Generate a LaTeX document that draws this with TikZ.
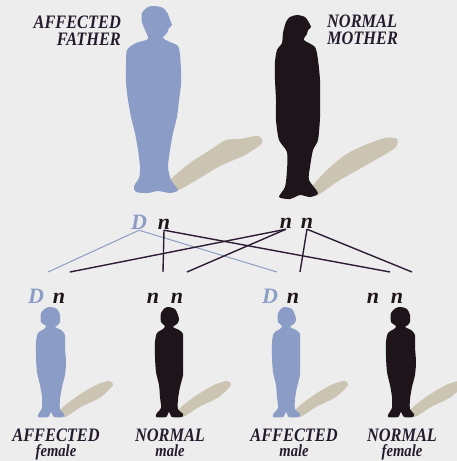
\documentclass[tikz,border=0pt]{standalone}
\usepackage{fontspec}
\newfontfamily\lettering{Liberation Serif}
\definecolor{paper}{HTML}{EDEDEE}
\definecolor{affected}{HTML}{8B9DC6}
\definecolor{normal}{HTML}{1E151B}
\definecolor{castshadow}{HTML}{CBC4B2}
\definecolor{ink}{HTML}{251B2C}
\definecolor{dline}{HTML}{2C1C34}
\definecolor{gline}{HTML}{8E9DC0}
\newcommand\sexword[1]{{\fontsize{17}{17}\selectfont #1}}
\tikzset{
  lbl/.style={font=\lettering\fontsize{19}{19}\selectfont\bfseries\itshape, text=ink, inner sep=0pt, xscale=0.86},
  kidlbl/.style={lbl, align=center, anchor=north},
  gene/.style={font=\lettering\fontsize{22}{24}\selectfont\bfseries\itshape, inner sep=1pt, anchor=base},
  dom/.style={gene, text=affected},
  rec/.style={gene, text=normal},
  gwire/.style={draw=gline, line width=1pt},
  dwire/.style={draw=dline, line width=1.4pt},
  figure/.style={smooth cycle, tension=0.45},
  girl/.pic={
    \path[pic actions] plot[figure] coordinates {
      (0,-110) (6,-108) (9,-102) (9,-95) (7,-92) (4,-90) (10,-87) (14,-82)
      (14,-70) (15,-55) (14,-42) (11,-30) (9,-18) (9,-8) (13,-3) (12,0)
      (3,0) (0,-5) (-3,0) (-13,0) (-12,-4) (-9,-9) (-9,-20) (-11,-32)
      (-14,-45) (-15,-60) (-15,-75) (-13,-84) (-7,-88) (-5,-91) (-10,-95)
      (-10,-104) (-5,-109)};
  },
  boy/.pic={
    \path[pic actions] plot[figure] coordinates {
      (0,-110) (6,-108) (9,-102) (10,-97) (8,-93) (4,-90) (10,-87) (14,-83)
      (14,-70) (14,-55) (14,-42) (11,-30) (9,-18) (9,-8) (14,-3) (13,0)
      (3,0) (0,-5) (-3,0) (-13,0) (-12,-4) (-8,-9) (-9,-20) (-10,-32)
      (-13,-45) (-14,-60) (-14,-75) (-12,-84) (-6,-88) (-4,-91) (-8,-95)
      (-8,-104) (-4,-109)};
  },
  kidshadow/.pic={
    \path[pic actions] plot[figure] coordinates {
      (8,-3) (14,0) (30,-10) (50,-20) (62,-32) (58,-36) (45,-32) (28,-22) (12,-10)};
  },
}
\begin{document}
\begin{tikzpicture}[x=1pt, y=-1pt]
  \fill[paper] (0,0) rectangle (457,461);
  \useasboundingbox (0,0) rectangle (457,461);
  \clip (0,0) rectangle (457,461);

  % parents' shadows
  \fill[castshadow] plot[figure] coordinates {(166,187) (174,192) (195,181) (220,166)
    (245,155) (262,143) (258,136) (240,139) (226,140) (210,150) (190,163) (172,178)};
  \fill[castshadow] plot[figure] coordinates {(308,192) (316,196) (340,180) (370,163)
    (395,148) (397,139) (385,138) (365,145) (345,155) (325,172)};

  % father
  \fill[affected] plot[figure] coordinates {(155,6) (163,8) (168,14) (170,20)
    (172,25) (169,28) (167,33) (163,38) (170,42) (178,46) (180,55) (181,70)
    (181,85) (179,100) (177,117) (173,133) (170,150) (168,167) (171,180)
    (178,190) (170,193) (158,191) (148,193) (136,192) (134,186) (139,178)
    (140,167) (138,150) (135,133) (131,117) (128,100) (126,83) (126,65)
    (127,50) (136,43) (148,39) (145,30) (142,22) (142,13) (148,7)};

  % mother
  \fill[normal] plot[figure] coordinates {(297,15) (305,17) (308,21) (311,27)
    (308,30) (307,34) (304,40) (315,47) (318,60) (320,80) (320,100) (320,118)
    (318,140) (313,150) (310,167) (309,180) (318,193) (310,197) (300,195)
    (290,199) (279,197) (285,187) (287,170) (287,152) (279,140) (276,120)
    (276,100) (275,80) (275,62) (277,50) (282,43) (283,33) (286,22) (290,17)};

  % parent labels
  \node[lbl, anchor=north east, align=right] (fatherlbl) at (121,16) {AFFECTED\\[-2pt]FATHER};
  \node[lbl, anchor=north west, align=left] (motherlbl) at (327,15) {NORMAL\\[-2pt]MOTHER};

  % parent genotypes
  \node[dom] (fD) at (139,229) {D};
  \node[rec] (fn) at (164,229) {n};
  \node[rec] (m1) at (286,228) {n};
  \node[rec] (m2) at (307,228) {n};

  % ends of the crossing lines, above each child
  \coordinate (c1a) at (48,272);  \coordinate (c1b) at (70,272);
  \coordinate (c2a) at (163,272); \coordinate (c2b) at (187,272);
  \coordinate (c3a) at (277,272); \coordinate (c3b) at (300,272);
  \coordinate (c4a) at (390,272); \coordinate (c4b) at (412,272);

  \draw[gwire] (fD.south) -- (c1a);
  \draw[gwire] (fD.south) -- (c3a);
  \draw[dwire] (fn.south) -- (c2a);
  \draw[dwire] (fn.south) -- (c4a);
  \draw[dwire] (m1.south) -- (c1b);
  \draw[dwire] (m1.south) -- (c2b);
  \draw[dwire] (m2.south) -- (c3b);
  \draw[dwire] (m2.south) -- (c4b);

  % children: shadows, then figures
  \pic[fill=castshadow] at (51,417) {kidshadow};
  \pic[fill=castshadow] at (169,417) {kidshadow};
  \pic[fill=castshadow] at (286,417) {kidshadow};
  \pic[fill=castshadow] at (401,417) {kidshadow};
  \pic[fill=affected] at (51,417) {girl};
  \pic[fill=normal] at (169,417) {boy};
  \pic[fill=affected] at (286,417) {boy};
  \pic[fill=normal] at (401,417) {girl};

  % children genotypes
  \node[dom] (k1D) at (36,303) {D};
  \node[rec] (k1n) at (59,303) {n};
  \node[rec] (k2a) at (153,303) {n};
  \node[rec] (k2b) at (177,303) {n};
  \node[dom] (k3D) at (270,303) {D};
  \node[rec] (k3n) at (293,303) {n};
  \node[rec] (k4a) at (373,303) {n};
  \node[rec] (k4b) at (397,303) {n};

  % children labels
  \node[kidlbl] (k1l) at (56,429) {AFFECTED\\[-4pt]\sexword{female}};
  \node[kidlbl] (k2l) at (170,429) {NORMAL\\[-4pt]\sexword{male}};
  \node[kidlbl] (k3l) at (294,429) {AFFECTED\\[-4pt]\sexword{male}};
  \node[kidlbl] (k4l) at (402,429) {NORMAL\\[-4pt]\sexword{female}};
\end{tikzpicture}
\end{document}
